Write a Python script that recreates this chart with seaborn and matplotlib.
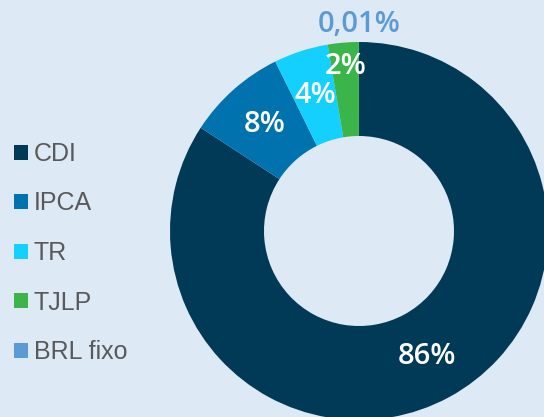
import numpy as np
import matplotlib
matplotlib.use("Agg")
import matplotlib.pyplot as plt
import seaborn as sns

# ---- data ----
categories = ["CDI", "IPCA", "TR", "TJLP", "BRL fixo"]
shares = [84.2, 8.5, 4.65, 2.64, 0.01]          # slice sizes
value_labels = ["86%", "8%", "4%", "2%", "0,01%"]  # printed labels
colors = ["#003a57", "#0072ae", "#14d0ff", "#3bb54a", "#5b9bd5"]

BG = "#dde9f5"
sns.set_theme(style="white")
plt.rcParams["font.family"] = ["Liberation Sans", "DejaVu Sans"]

W, H = 544, 417
fig = plt.figure(figsize=(W / 100, H / 100), dpi=100, facecolor=BG)
ax = fig.add_axes([0, 0, 1, 1])
ax.set_facecolor(BG)

cx, cy = 359, H - 231
R, ring = 189, 94
wedges, _ = ax.pie(shares, colors=colors, startangle=90, counterclock=False,
                   radius=R, center=(cx, cy), frame=True,
                   wedgeprops=dict(width=ring, linewidth=0, edgecolor="none"))
ax.set_xlim(0, W)
ax.set_ylim(0, H)
ax.set_aspect("equal")
ax.axis("off")

label_r = [143, 142, 142, 165, 207]
label_col = ["white", "white", "white", "white", "#5b9bd5"]
for w, lab, r, c in zip(wedges, value_labels, label_r, label_col):
    ang = np.deg2rad((w.theta1 + w.theta2) / 2)
    ax.text(cx + r * np.cos(ang), cy + r * np.sin(ang), lab, color=c,
            ha="center", va="center", fontsize=21, fontweight="semibold",
            family=["Open Sans", "DejaVu Sans"])

leg = fig.legend(wedges, categories, loc="center left",
                 bbox_to_anchor=(14 / W, 164 / H), frameon=False,
                 fontsize=18, handlelength=0.56, handleheight=0.56,
                 handletextpad=0.22, labelspacing=1.02, borderpad=0, borderaxespad=0)
for t in leg.get_texts():
    t.set_color("#595959")

fig.savefig("out.png", dpi=100, facecolor=BG)
